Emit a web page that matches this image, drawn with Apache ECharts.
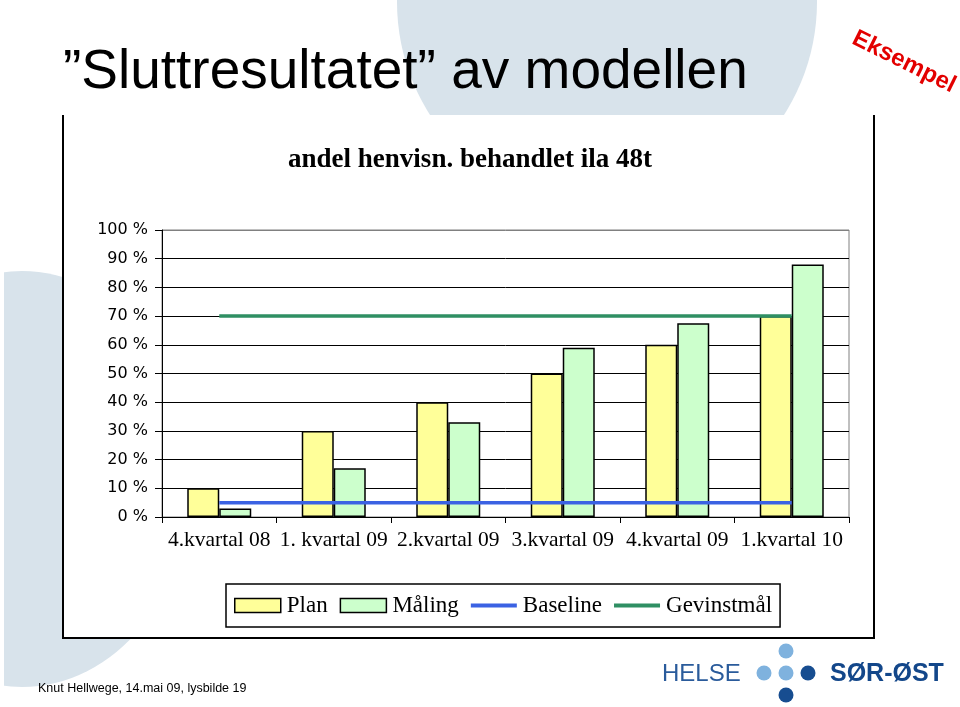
<!DOCTYPE html>
<html>
<head>
<meta charset="utf-8">
<script src="https://cdn.jsdelivr.net/npm/echarts@6/dist/echarts.min.js"></script>
<style>html,body{margin:0;padding:0;background:#fff;}#c{width:960px;height:707px;}</style>
</head>
<body>
<div id="c"></div>
<script>
var categories = ['4.kvartal 08', '1. kvartal 09', '2.kvartal 09', '3.kvartal 09', '4.kvartal 09', '1.kvartal 10'];
var plan = [10, 30, 40, 50, 60, 70];
var maaling = [3, 17, 33, 59, 67.5, 88];
var baseline = [5, 5, 5, 5, 5, 5];
var gevinstmaal = [70, 70, 70, 70, 70, 70];
var seriesNames = ['Plan', 'Måling', 'Baseline', 'Gevinstmål'];

var colPlan = '#ffff99', colMaal = '#ccffcc', colBase = '#3b62e3', colGoal = '#2f8f63';

var chart = echarts.init(document.getElementById('c'), null, {renderer: 'canvas'});
var serif = '"Liberation Serif", "DejaVu Serif", serif';
var splitColors = [];
for (var i = 0; i < 10; i++) splitColors.push('#000');
splitColors.push('#808080');

var option = {
  backgroundColor: '#fff',
  animation: false,
  graphic: [
    {type: 'circle', z: -20, shape: {cx: 0, cy: 0, r: 210}, x: 607, y: 2, style: {fill: '#d8e3eb'}},
    {type: 'circle', z: -20, shape: {cx: 0, cy: 0, r: 208}, x: 22, y: 479, scaleX: 170/208, style: {fill: '#d8e3eb'}},
    {type: 'rect', z: -19, shape: {x: 0, y: 250, width: 4, height: 457}, style: {fill: '#fff'}},
    {type: 'rect', z: -15, shape: {x: 63, y: 115, width: 811, height: 523}, style: {fill: '#fff'}},
    {type: 'polyline', z: -14, shape: {points: [[63, 115], [63, 638], [874, 638], [874, 115]]}, style: {stroke: '#000', lineWidth: 2, fill: null}},
    {type: 'text', z: 10, x: 63, y: 73, style: {text: '\u201dSluttresultatet\u201d av modellen', font: '55px "Liberation Sans", Arial, sans-serif', fill: '#000', verticalAlign: 'middle'}},
    {type: 'text', z: 10, x: 904, y: 62, rotation: -0.46, style: {text: 'Eksempel', font: 'bold 24px "Liberation Sans", Arial, sans-serif', fill: '#e30000', align: 'center', verticalAlign: 'middle'}},
    {type: 'text', z: 10, x: 470, y: 160, style: {text: 'andel henvisn. behandlet ila 48t', font: 'bold 27px ' + serif, fill: '#000', align: 'center', verticalAlign: 'middle'}},
    {type: 'text', z: 10, x: 38, y: 689, style: {text: 'Knut Hellwege, 14.mai 09, lysbilde 19', font: '12.5px "Liberation Sans", Arial, sans-serif', fill: '#000', verticalAlign: 'middle'}},
    {type: 'text', z: 10, x: 662, y: 674, style: {text: 'HELSE', font: '24px "Liberation Sans", Arial, sans-serif', fill: '#2a5b9b', verticalAlign: 'middle'}},
    {type: 'text', z: 10, x: 830, y: 674, style: {text: 'SØR-ØST', font: 'bold 25px "Liberation Sans", Arial, sans-serif', fill: '#13478a', verticalAlign: 'middle'}},
    {type: 'circle', z: 10, shape: {cx: 786, cy: 651, r: 7.5}, style: {fill: '#7fb2de'}},
    {type: 'circle', z: 10, shape: {cx: 764, cy: 673, r: 7.5}, style: {fill: '#7fb2de'}},
    {type: 'circle', z: 10, shape: {cx: 786, cy: 673, r: 7.5}, style: {fill: '#7fb2de'}},
    {type: 'circle', z: 10, shape: {cx: 808, cy: 673, r: 7.5}, style: {fill: '#174d90'}},
    {type: 'circle', z: 10, shape: {cx: 786, cy: 695, r: 7.5}, style: {fill: '#174d90'}}
  ],
  grid: {left: 162, right: 111, top: 230, bottom: 190, show: true, borderColor: '#808080', borderWidth: 1, backgroundColor: 'transparent'},
  legend: {
    data: [
      {name: 'Plan', icon: 'rect', itemStyle: {color: colPlan, borderColor: '#000', borderWidth: 1.5}},
      {name: 'Måling', icon: 'rect', itemStyle: {color: colMaal, borderColor: '#000', borderWidth: 1.5}},
      {name: 'Baseline', icon: 'path://M0,0H48V4H0Z', itemStyle: {color: colBase, borderWidth: 0}},
      {name: 'Gevinstmål', icon: 'path://M0,0H48V4H0Z', itemStyle: {color: colGoal, borderWidth: 0}}
    ],
    left: 226, top: 584,
    itemWidth: 46, itemHeight: 14, itemGap: 12,
    borderColor: '#000', borderWidth: 1.5, padding: [10, 8, 10, 8],
    backgroundColor: '#fff',
    textStyle: {fontFamily: serif, fontSize: 23, color: '#000', padding: [0, 0, 0, 1]}
  },
  xAxis: {
    type: 'category', data: categories, boundaryGap: true,
    axisLine: {lineStyle: {color: '#000', width: 1}},
    axisTick: {show: true, length: 6, lineStyle: {color: '#000'}},
    axisLabel: {fontFamily: serif, fontSize: 21.5, color: '#000', margin: 12, interval: 0},
    splitLine: {show: false}
  },
  yAxis: {
    type: 'value', min: 0, max: 100, interval: 10,
    axisLine: {show: true, lineStyle: {color: '#000', width: 1}},
    axisTick: {show: true, length: 7, lineStyle: {color: '#000'}},
    axisLabel: {formatter: '{value} %', fontFamily: '"DejaVu Sans", Verdana, sans-serif', fontSize: 16, color: '#000', margin: 14},
    splitLine: {show: true, lineStyle: {color: splitColors, width: 1}}
  },
  series: [
    {name: 'Plan', type: 'bar', data: plan, barWidth: 32, barGap: '0%', itemStyle: {color: colPlan, borderColor: '#000', borderWidth: 1.5}},
    {name: 'Måling', type: 'bar', data: maaling, barWidth: 32, barGap: '0%', itemStyle: {color: colMaal, borderColor: '#000', borderWidth: 1.5}},
    {name: 'Baseline', type: 'line', data: baseline, symbol: 'none', lineStyle: {color: colBase, width: 3.5}, itemStyle: {color: colBase}, z: 5},
    {name: 'Gevinstmål', type: 'line', data: gevinstmaal, symbol: 'none', lineStyle: {color: colGoal, width: 3.5}, itemStyle: {color: colGoal}, z: 5}
  ]
};
chart.setOption(option);
</script>
</body>
</html>
